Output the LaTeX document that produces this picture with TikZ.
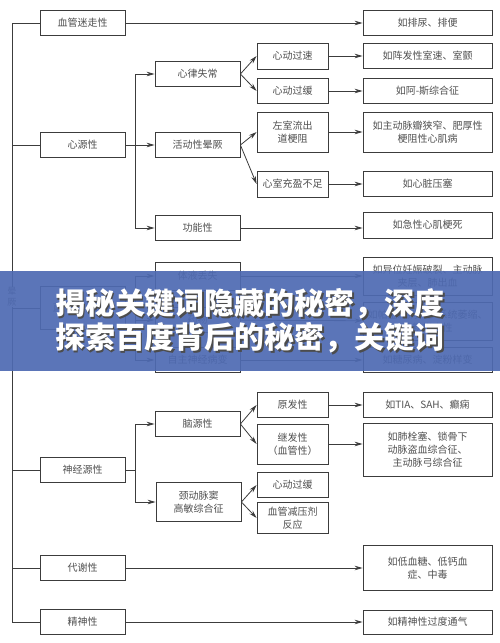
\documentclass[tikz,border=0pt]{standalone}
\usepackage{fontspec}
\setmainfont{Noto Sans CJK SC}
\usetikzlibrary{arrows.meta}
\definecolor{boxline}{RGB}{60,60,60}
\definecolor{boxtext}{RGB}{80,80,80}
\definecolor{bannerblue}{RGB}{78,106,178}
\begin{document}
\begin{tikzpicture}[x=1pt,y=-1pt,
  box/.style={draw=boxline,line width=0.8pt,text=boxtext,align=center,
    inner sep=1pt,font=\fontsize{10}{13}\selectfont},
  colA/.style={box,minimum width=85pt,minimum height=25pt},
  colB/.style={box,minimum width=85pt,minimum height=25pt},
  colC/.style={box,minimum width=71pt,minimum height=25pt},
  colD/.style={box,minimum width=129pt,minimum height=25pt},
  wire/.style={draw=boxline,line width=0.8pt},
  arr/.style={wire,-{Stealth[length=8pt,width=4.5pt]}}]
\useasboundingbox[fill=white] (0,0) rectangle (500,643);

% first column
\node[colA] (vaso) at (82.5,23) {血管迷走性};
\node[colA] (cardiac) at (82.5,145) {心源性};
\node[colA,minimum height=43pt] (ortho) at (82.5,308) {直立性低血压};
\node[colA] (neuro) at (82.5,470) {神经源性};
\node[colA] (metab) at (82.5,568) {代谢性};
\node[colA] (psych) at (82.5,622) {精神性};

% second column
\node[colB] (arrhy) at (197.5,74) {心律失常};
\node[colB] (active) at (197.5,145) {活动性晕厥};
\node[colB] (func) at (197.5,228) {功能性};
\node[colB,minimum height=28pt] (fluid) at (197.5,276) {体液丢失};
\node[colB] (drug) at (197.5,320) {药物};
\node[colB] (auto) at (197.5,360) {自主神经病变};
\node[colB] (brain) at (197.5,424) {脑源性};
\node[colB,minimum height=39pt] (carotid) at (198.5,502) {颈动脉窦\\高敏综合征};

% third column
\node[colC,minimum height=26pt] (tachy) at (292.5,56) {心动过速};
\node[colC] (brady) at (292.5,91) {心动过缓};
\node[colC,minimum height=40pt] (lvot) at (292.5,132) {左室流出\\道梗阻};
\node[colC,minimum height=26pt] (filling) at (292.5,184) {心室充盈不足};
\node[colC] (primary) at (292.5,405) {原发性};
\node[colC,minimum height=40pt] (second) at (292.5,444) {继发性\\（血管性）};
\node[colC] (bradyb) at (292.5,485) {心动过缓};
\node[colC,minimum height=31pt] (vdp) at (292.5,518) {血管减压剂\\反应};

% fourth column
\node[colD] (urine) at (427.5,23) {如排尿、排便};
\node[colD] (vt) at (427.5,56) {如阵发性室速、室颤};
\node[colD] (adams) at (427.5,91) {如阿-斯综合征};
\node[colD,minimum height=40pt] (stenosis) at (427.5,132) {如主动脉瓣狭窄、肥厚性\\梗阻性心肌病};
\node[colD] (tamp) at (427.5,184) {如心脏压塞};
\node[colD,minimum height=26pt] (mi) at (427.5,225) {如急性心肌梗死};
\node[colD,minimum height=38pt] (bleed) at (427.5,276) {如异位妊娠破裂、主动脉\\夹层、肺出血};
\node[colD,minimum height=38pt] (parkin) at (427.5,321) {如帕金森病、多系统萎缩、\\淀粉样变性};
\node[colD] (diab) at (427.5,360) {如糖尿病、淀粉样变};
\node[colD] (tia) at (427.5,405) {如TIA、SAH、癫痫};
\node[colD,minimum height=53pt] (embol) at (427.5,450) {如肺栓塞、锁骨下\\动脉盗血综合征、\\主动脉弓综合征};
\node[colD,minimum height=45pt] (hypo) at (427.5,568) {如低血糖、低钙血\\症、中毒};
\node[colD,minimum height=24pt] (hyperv) at (427.5,622) {如精神性过度通气};

% trunk
\coordinate (rtop) at (12,23);
\coordinate (rbot) at (12,622);
\draw[wire] (rtop) -- (rbot);
\foreach \n in {vaso,cardiac,ortho,neuro,metab,psych}
  \draw[wire] (\n.west) -- (\n.west -| rtop);
\node[fill=white,text=boxtext,align=center,inner sep=1pt,
  font=\fontsize{9}{11}\selectfont] (root) at (12,297) {晕\\厥};

% branches
\coordinate (cbus) at (135,145);
\coordinate (obus) at (135,308);
\coordinate (nbus) at (135,470);
\draw[arr] (cardiac) -- (active);
\draw[wire] (arrhy.west -| cbus) -- (func.west -| cbus);
\foreach \n in {arrhy,func} \draw[arr] (\n.west -| cbus) -- (\n);
\draw[wire] (ortho.east) -- (obus);
\draw[wire] (fluid.west -| obus) -- (auto.west -| obus);
\foreach \n in {fluid,drug,auto} \draw[arr] (\n.west -| obus) -- (\n);
\draw[wire] (neuro.east) -- (nbus);
\draw[wire] (brain.west -| nbus) -- (carotid.west -| nbus);
\foreach \n in {brain,carotid} \draw[arr] (\n.west -| nbus) -- (\n);

\draw[arr] (arrhy.east) -- (tachy.west);
\draw[arr] (arrhy.east) -- (brady.west);
\draw[arr] (active.east) -- (lvot.west);
\draw[arr] (active.east) -- (filling.west);
\draw[arr] (brain.east) -- (primary.west);
\draw[arr] (brain.east) -- (second.west);
\draw[arr] (carotid.east) -- (bradyb.west);
\draw[arr] (carotid.east) -- (vdp.west);

\draw[arr] (vaso) -- (urine);
\draw[arr] (tachy) -- (vt);
\draw[arr] (brady) -- (adams);
\draw[arr] (lvot) -- (stenosis);
\draw[arr] (filling) -- (tamp);
\draw[arr] (func.east) -- (func.east -| mi.west);
\draw[arr] (fluid) -- (bleed);
\draw[arr] (drug) -- (parkin);
\draw[arr] (auto) -- (diab);
\draw[arr] (primary) -- (tia);
\draw[arr] (second.east) -- (second.east -| embol.west);
\draw[arr] (metab) -- (hypo);
\draw[arr] (psych) -- (hyperv);

% banner over the middle
\fill[bannerblue,opacity=0.92] (0,271) rectangle (500,371);
\node[text=black!70,align=center,font=\bfseries\fontsize{30}{34}\selectfont]
  (shadow) at (251.5,322.5) {揭秘关键词隐藏的秘密，深度\\探索百度背后的秘密，关键词};
\node[text=white,align=center,font=\bfseries\fontsize{30}{34}\selectfont]
  (banner) at (250,321) {揭秘关键词隐藏的秘密，深度\\探索百度背后的秘密，关键词};
\end{tikzpicture}
\end{document}
